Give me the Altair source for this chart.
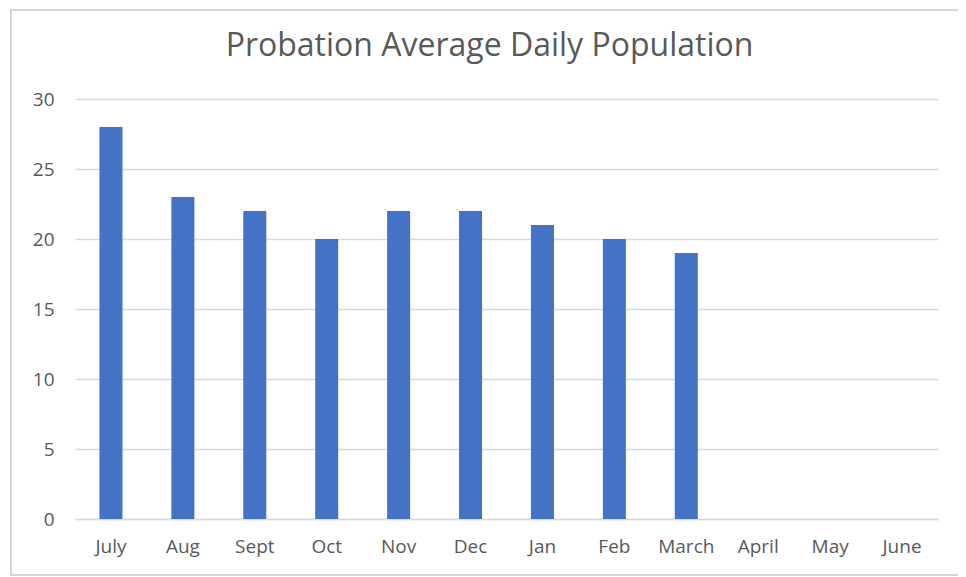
import altair as alt
import pandas as pd

months = ["July", "Aug", "Sept", "Oct", "Nov", "Dec", "Jan", "Feb", "March", "April", "May", "June"]
values = [28, 23, 22, 20, 22, 22, 21, 20, 19, None, None, None]

df = pd.DataFrame({"month": months, "value": values})

W, H = 863, 420
FONT = "Open Sans"
GRAY = "#595959"

bars = alt.Chart(df).mark_bar(color="#4472C4").encode(
    x=alt.X("month:N", sort=months, title=None,
            scale=alt.Scale(paddingInner=0.68, paddingOuter=0.34),
            axis=alt.Axis(labelAngle=0, labelFont=FONT, labelFontSize=19, labelColor=GRAY,
                          ticks=False, domainColor="#d9d9d9", domainWidth=1.5, labelPadding=18)),
    y=alt.Y("value:Q", title=None,
            scale=alt.Scale(domain=[0, 30]),
            axis=alt.Axis(values=[0, 5, 10, 15, 20, 25, 30], labelFont=FONT, labelFontSize=19,
                          labelColor=GRAY, ticks=False, domain=False, gridColor="#d9d9d9",
                          gridWidth=1.5, labelPadding=21)),
)

frame = alt.Chart(pd.DataFrame({"a": [0]})).mark_rect(
    fill=None, stroke="#d4d4d4", strokeWidth=2
).encode(x=alt.value(-64), x2=alt.value(905), y=alt.value(-89), y2=alt.value(476))

chart = alt.layer(frame, bars).properties(
    width=W, height=H,
    autosize=alt.AutoSizeParams(type="none"),
    padding={"left": 67, "top": 91, "right": 20, "bottom": 60},
    title=alt.TitleParams("Probation Average Daily Population", font=FONT, fontSize=32,
                          fontWeight="normal", color=GRAY, anchor="middle", offset=0,
                          baseline="alphabetic", dy=79, dx=-17, frame="group"),
).configure_view(stroke=None)

chart.save("out.html", embed_options={"renderer": "svg", "actions": False})
